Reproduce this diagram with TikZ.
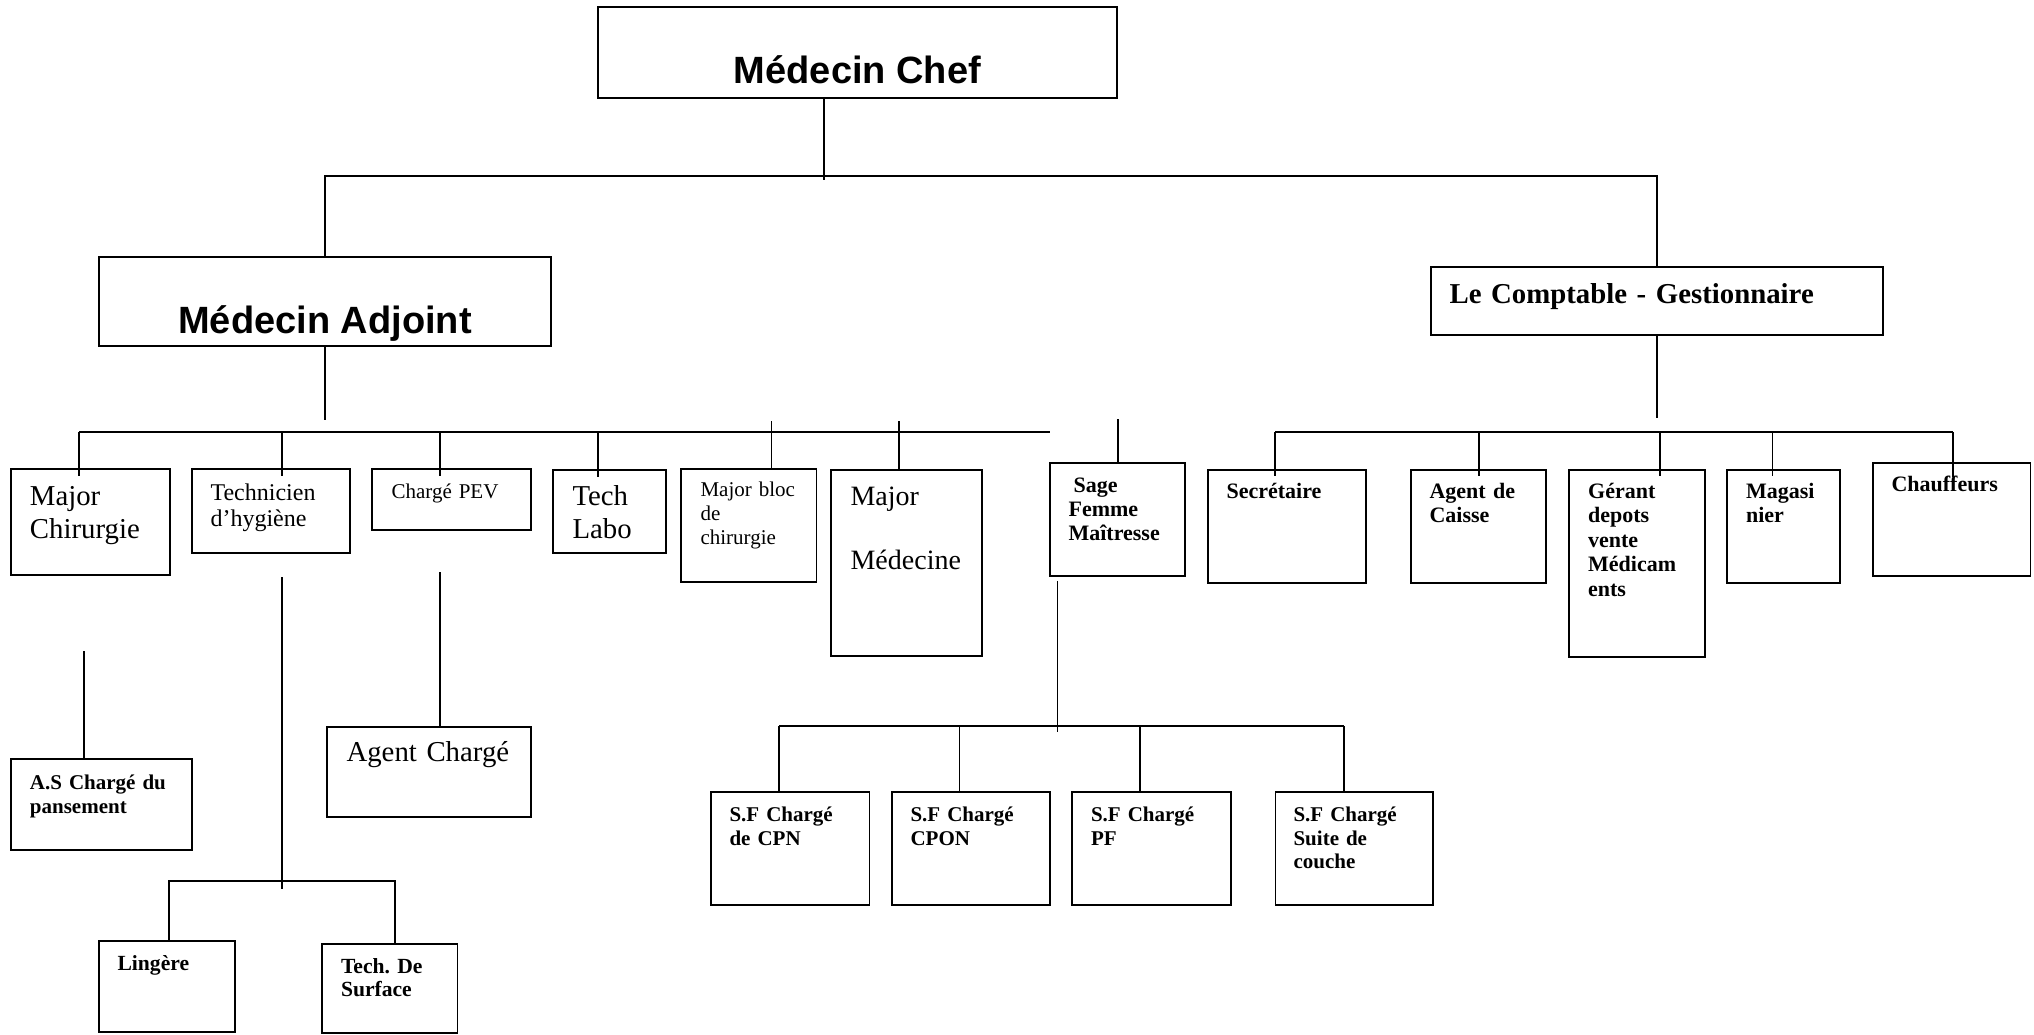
\documentclass[tikz,border=0pt]{standalone}
\usepackage{fontspec}
\setmainfont{Liberation Serif}
\newfontfamily\arialfont{Liberation Sans}
\usetikzlibrary{fit}
\frenchspacing
\newcommand\fsz[2]{\fontsize{#1}{#2}\selectfont}
\tikzset{
  unit/.style={draw, line width=0.85pt, inner sep=0pt},
  lbl/.style={anchor=base west, inner sep=0pt, align=left, text width=7cm},
  link/.style={line width=0.9pt},
}

\begin{document}
\begin{tikzpicture}[x=0.5pt,y=-0.5pt]
        \useasboundingbox (0,0) rectangle (2034,1034);

        % direction
        \node[unit, fit={(598,7) (1117,98)}] (chef) {};
        \node[anchor=base, inner sep=0pt, font=\arialfont\bfseries\fsz{19}{22}] (chefT) at ([shift={(0,-15)}]chef.south) {Médecin Chef};

        \node[unit, fit={(99,257) (551,346)}] (adjoint) {};
        \node[anchor=base, inner sep=0pt, font=\arialfont\bfseries\fsz{19}{22}] (adjointT) at ([shift={(0,-13)}]adjoint.south) {Médecin Adjoint};

        \node[unit, fit={(1431,267) (1883,335)}] (compta) {};
        \node[lbl, font=\bfseries\fsz{14.4}{16.75}] (comptaT) at ([shift={(19,37)}]compta.north west) {Le Comptable - Gestionnaire};

        \draw[link] (823.6,0 |- chef.south) -- ++(0,81);
        \draw[link] (adjoint.north) -- ++(0,-80) -| (compta.north);

        % services du medecin adjoint
        \node[unit, fit={(11,469) (170,575)}] (majchir) {};
        \node[lbl, font=\fsz{14.4}{16.75}] (majchirT) at ([shift={(19.4,37)}]majchir.north west) {Major\\Chirurgie};

        \node[unit, fit={(192,469) (350,553)}] (techhyg) {};
        \node[lbl, font=\fsz{12}{13}] (techhygT) at ([shift={(19,32)}]techhyg.north west) {Technicien\\d’hygiène};

        \node[unit, fit={(372,469) (531,530)}] (pev) {};
        \node[lbl, font=\fsz{10.5}{12}] (pevT) at ([shift={(20,30)}]pev.north west) {Chargé PEV};

        \node[unit, fit={(553,470) (666,553)}] (labo) {};
        \node[lbl, font=\fsz{14.4}{16.75}] (laboT) at ([shift={(20,36)}]labo.north west) {Tech\\Labo};

        \node[unit, fit={(681,469) (816.5,582)}] (bloc) {};
        \node[lbl, font=\fsz{10.5}{12}] (blocT) at ([shift={(20,28)}]bloc.north west) {Major bloc\\de\\chirurgie};

        \node[unit, fit={(831,470) (982,656)}] (medecine) {};
        \node[lbl, font=\fsz{14}{16}] (medecineT) at ([shift={(20,36)}]medecine.north west) {Major\\[16pt]Médecine};

        \node[unit, fit={(1050,463) (1185,576)}] (sage) {};
        \node[lbl, font=\bfseries\fsz{11}{12}] (sageT) at ([shift={(19,30)}]sage.north west) {\hspace*{2.5pt}Sage\\Femme\\Maîtresse};

        \draw[link] (adjoint.south) -- ++(0,73);
        \draw[link] (79,432) -- (1050,432);
        \foreach \x/\n in {79/majchir,281.7/techhyg,440/pev,598/labo}
          \draw[link] (\x,432) -- (\x,432 |- \n.north) -- ++(0,8);
        \foreach \x/\n in {771.5/bloc,899/medecine}
          \draw[link] (\x,421) -- (\x,421 |- \n.north);
        \draw[link] (1117.8,419) -- (1117.8,419 |- sage.north);

        % niveau inferieur gauche
        \node[unit, fit={(10.7,759) (192,850)}] (asp) {};
        \node[lbl, font=\bfseries\fsz{10.5}{12.25}] (aspT) at ([shift={(19.7,31)}]asp.north west) {A.S Chargé du\\pansement};
        \draw[link] (84,651) -- (84,651 |- asp.north);

        \node[unit, fit={(99,941) (235,1032)}] (lingere) {};
        \node[lbl, font=\bfseries\fsz{10.8}{11.8}] (lingereT) at ([shift={(19,30)}]lingere.north west) {Lingère};

        \node[unit, fit={(322,944) (457.6,1033)}] (techsurf) {};
        \node[lbl, font=\bfseries\fsz{10.8}{11.8}] (techsurfT) at ([shift={(19.5,30)}]techsurf.north west) {Tech. De\\Surface};

        \draw[link] (281.7,577) -- (281.7,888.5);
        \draw[link] (lingere.north -| 169,0) |- (395,881) -- (395,881 |- techsurf.north);

        \node[unit, fit={(327,726.7) (531,817)}] (agent) {};
        \node[lbl, font=\fsz{14.4}{16.75}] (agentT) at ([shift={(20,35.3)}]agent.north west) {Agent Chargé};
        \draw[link] (440,572) -- (440,572 |- agent.north);

        % sages femmes
        \node[unit, fit={(710.7,792) (869.5,905)}] (sfcpn) {};
        \node[lbl, font=\bfseries\fsz{10.5}{11.75}] (sfcpnT) at ([shift={(19.3,30.6)}]sfcpn.north west) {S.F Chargé\\de CPN};

        \node[unit, fit={(892,792) (1050,905)}] (sfcpon) {};
        \node[lbl, font=\bfseries\fsz{10.5}{11.75}] (sfcponT) at ([shift={(19,30.6)}]sfcpon.north west) {S.F Chargé\\CPON};

        \node[unit, fit={(1072,792) (1230.7,905)}] (sfpf) {};
        \node[lbl, font=\bfseries\fsz{10.5}{11.75}] (sfpfT) at ([shift={(19.5,30.6)}]sfpf.north west) {S.F Chargé\\PF};

        \node[unit, fit={(1275.6,792) (1433,905)}] (sfsuite) {};
        \node[lbl, font=\bfseries\fsz{10.5}{11.75}] (sfsuiteT) at ([shift={(18.4,30.6)}]sfsuite.north west) {S.F Chargé\\Suite de\\couche};

        \draw[link] (1057.5,0 |- sage.south) ++(0,4) -- ++(0,151);
        \draw[link] (779,726) -- (1343.6,726);
        \foreach \x/\n in {779/sfcpn,959.5/sfcpon,1140/sfpf,1343.6/sfsuite}
          \draw[link] (\x,726) -- (\x,726 |- \n.north);

        % services du comptable
        \node[unit, fit={(1208,470) (1366,583)}] (secr) {};
        \node[lbl, font=\bfseries\fsz{11}{12.3}] (secrT) at ([shift={(19,29.3)}]secr.north west) {Secrétaire};

        \node[unit, fit={(1411,470) (1546,583)}] (caisse) {};
        \node[lbl, font=\bfseries\fsz{11}{12.3}] (caisseT) at ([shift={(19,29)}]caisse.north west) {Agent de\\Caisse};

        \node[unit, fit={(1569,470) (1705,657)}] (gerant) {};
        \node[lbl, font=\bfseries\fsz{11}{12.3}] (gerantT) at ([shift={(19.6,29)}]gerant.north west) {Gérant\\depots\\vente\\Médicam\\ents};

        \node[unit, fit={(1726.7,470) (1840,583)}] (magas) {};
        \node[lbl, font=\bfseries\fsz{11}{12.3}] (magasT) at ([shift={(19.8,29)}]magas.north west) {Magasi\\nier};

        \node[unit, fit={(1872.7,462.7) (2030.6,576)}] (chauff) {};
        \node[lbl, font=\bfseries\fsz{11}{12.3}] (chauffT) at ([shift={(19.3,30)}]chauff.north west) {Chauffeurs};

        \draw[link] (compta.south) -- ++(0,82);
        \draw[link] (1275,432) -- (1953,432);
        \foreach \x/\n in {1275/secr,1478.7/caisse,1659.6/gerant,1772.4/magas}
          \draw[link] (\x,432) -- (\x,432 |- \n.north) -- ++(0,7);
        \draw[link] (1952.8,432) -- (1952.8,432 |- chauff.north) -- ++(0,15);
\end{tikzpicture}
\end{document}
